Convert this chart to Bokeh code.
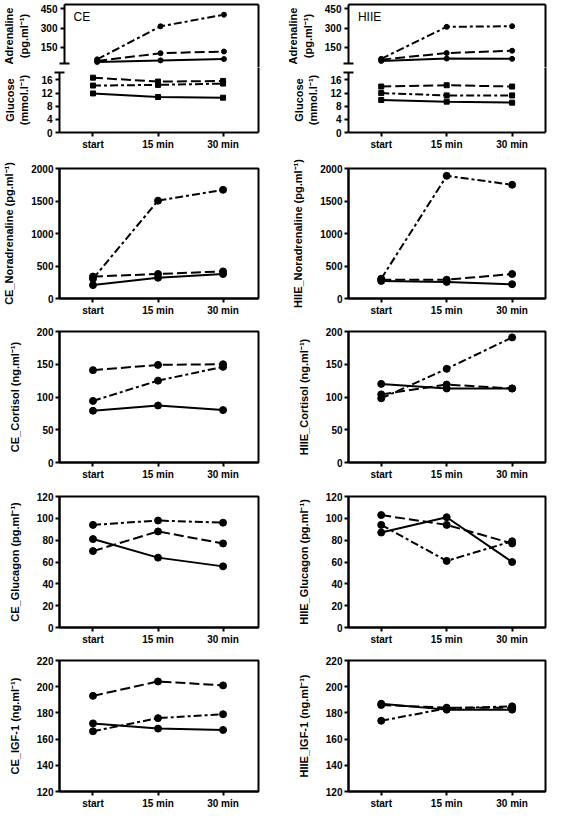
from bokeh.plotting import figure
from bokeh.layouts import column, row
from bokeh.models import Range1d, FixedTicker, LinearAxis, Label
from bokeh.embed import file_html
from bokeh.resources import INLINE

# ---------------- data ----------------
categories = ["start", "15 min", "30 min"]

# CE (left column)
ce_adr_solid = [38, 50, 60]
ce_adr_dashed = [45, 106, 119]
ce_adr_dashdot = [58, 314, 404]
ce_glu_solid = [11.9, 10.8, 10.6]
ce_glu_dashed = [16.7, 15.5, 15.7]
ce_glu_dashdot = [14.3, 14.5, 14.9]
ce_nor_solid = [206, 319, 377]
ce_nor_dashed = [338, 377, 417]
ce_nor_dashdot = [304, 1505, 1672]
ce_cor_solid = [79, 87, 80]
ce_cor_dashed = [141, 149, 150]
ce_cor_dashdot = [94, 125, 146]
ce_gcg_solid = [81, 64, 56]
ce_gcg_dashed = [70, 88, 77]
ce_gcg_dashdot = [94, 98, 96]
ce_igf_solid = [172, 168, 167]
ce_igf_dashed = [193, 204, 201]
ce_igf_dashdot = [166, 176, 179]

# HIIE (right column)
hi_adr_solid = [46, 64, 62]
hi_adr_dashed = [56, 107, 125]
hi_adr_dashdot = [62, 310, 315]
hi_glu_solid = [9.9, 9.4, 9.1]
hi_glu_dashed = [14.0, 14.4, 14.0]
hi_glu_dashdot = [12.0, 11.3, 11.3]
hi_nor_solid = [270, 255, 220]
hi_nor_dashed = [289, 289, 377]
hi_nor_dashdot = [304, 1887, 1750]
hi_cor_solid = [120, 113, 113]
hi_cor_dashed = [104, 119, 113]
hi_cor_dashdot = [98, 143, 191]
hi_gcg_solid = [87, 101, 60]
hi_gcg_dashed = [103, 94, 77]
hi_gcg_dashdot = [94, 61, 79]
hi_igf_solid = [187, 182.5, 182.5]
hi_igf_dashed = [186, 184, 184]
hi_igf_dashdot = [174, 183.5, 185]

# tick labels
adr_ticks = [150, 300, 450]
glu_ticks = [0, 4, 8, 12, 16]
nor_ticks = [0, 500, 1000, 1500, 2000]
cor_ticks = [0, 50, 100, 150, 200]
gcg_ticks = [0, 20, 40, 60, 80, 100, 120]
igf_ticks = [120, 140, 160, 180, 200, 220]

# ---------------- styling ----------------
FONT = "Liberation Sans"
DASH = {"solid": "solid", "dashed": "10 4", "dashdot": "8 3 3 3"}
x_idx = list(range(len(categories)))

LEFT = dict(w=282, bl=59, br=24, xr=(-0.515, 2.545))
RIGHT = dict(w=269, bl=66, br=6, xr=(-0.50, 2.51))


def style_axis(ax, ticks, minor=None):
    ax.ticker = FixedTicker(ticks=ticks, minor_ticks=minor or [])
    ax.axis_line_color = "black"
    ax.axis_line_width = 2
    ax.major_tick_line_color = "black"
    ax.major_tick_line_width = 2
    ax.major_tick_out = 4
    ax.major_tick_in = 0
    if minor:
        ax.minor_tick_line_color = "black"
        ax.minor_tick_line_width = 2
        ax.minor_tick_in = 5
        ax.minor_tick_out = 5
    else:
        ax.minor_tick_line_color = None
    ax.major_label_text_font = FONT
    ax.major_label_text_font_size = "10px"
    ax.major_label_text_font_style = "bold"
    ax.major_label_text_color = "black"
    ax.major_label_standoff = 2
    ax.axis_label_text_font = FONT
    ax.axis_label_text_font_size = "11px"
    ax.axis_label_text_font_style = "bold"
    ax.axis_label_text_color = "black"
    ax.axis_label_standoff = 13


def blank_axis(p, side):
    ax = LinearAxis(ticker=FixedTicker(ticks=[]))
    ax.axis_line_color = "black"
    ax.axis_line_width = 2
    ax.major_tick_line_color = None
    ax.minor_tick_line_color = None
    ax.major_label_standoff = 0
    ax.major_tick_out = 0
    ax.major_tick_in = 0
    p.add_layout(ax, side)


def draw(p, solid, dashed, dashdot, marker="circle", size=7, lw=2):
    for vals, key in ((solid, "solid"), (dashed, "dashed"), (dashdot, "dashdot")):
        p.line(x_idx, vals, line_color="black", line_width=lw, line_dash=DASH[key])
        p.scatter(x_idx, vals, marker=marker, size=size, color="black")


def style_x(ax):
    style_axis(ax, x_idx)
    ax.major_label_overrides = {i: c for i, c in enumerate(categories)}


def std_panel(col, h, bt, bb, yr, yticks, ylabel, series):
    p = figure(width=col["w"], height=h, x_range=Range1d(*col["xr"]), y_range=Range1d(*yr),
               output_backend="svg", toolbar_location=None,
               min_border_left=col["bl"], min_border_right=col["br"],
               min_border_top=bt, min_border_bottom=bb)
    p.xgrid.visible = False
    p.ygrid.visible = False
    p.outline_line_color = "black"
    p.outline_line_width = 2
    style_x(p.xaxis[0])
    style_axis(p.yaxis[0], yticks)
    p.yaxis[0].axis_label = ylabel
    draw(p, *series)
    return p


def top_upper(col, series, tag, tag_x):
    p = figure(width=col["w"], height=67, x_range=Range1d(*col["xr"]), y_range=Range1d(-5, 483),
               output_backend="svg", toolbar_location=None, x_axis_location=None,
               min_border_left=col["bl"], min_border_right=col["br"],
               min_border_top=4, min_border_bottom=0)
    p.xgrid.visible = False
    p.ygrid.visible = False
    p.outline_line_color = None
    ax = p.yaxis[0]
    style_axis(ax, adr_ticks, minor=[25])
    ax.bounds = (25, 483)
    ax.axis_label = "Adrenaline\n(pg.ml\u207b\u00b9)"
    ax.axis_label_standoff = 8
    blank_axis(p, "above")
    blank_axis(p, "right")
    draw(p, *series, marker="circle", size=5, lw=2)
    p.add_layout(Label(x=tag_x, y=384, text=tag, text_font=FONT, text_font_size="12px",
                       text_baseline="middle", text_align="left", text_color="black"))
    return p


def top_lower(col, series):
    p = figure(width=col["w"], height=85, x_range=Range1d(*col["xr"]), y_range=Range1d(0, 19.8),
               output_backend="svg", toolbar_location=None,
               min_border_left=col["bl"], min_border_right=col["br"],
               min_border_top=0, min_border_bottom=18)
    p.xgrid.visible = False
    p.ygrid.visible = False
    p.outline_line_color = None
    style_x(p.xaxis[0])
    ax = p.yaxis[0]
    style_axis(ax, glu_ticks, minor=[18.3])
    ax.bounds = (0, 18.3)
    ax.axis_label = "Glucose\n(mmol.l\u207b\u00b9)"
    ax.axis_label_standoff = 8
    blank_axis(p, "right")
    draw(p, *series, marker="square", size=5, lw=2)
    return p


a1 = top_upper(LEFT, (ce_adr_solid, ce_adr_dashed, ce_adr_dashdot), "CE", -0.373)
a2 = top_upper(RIGHT, (hi_adr_solid, hi_adr_dashed, hi_adr_dashdot), "HIIE", -0.356)
b1 = top_lower(LEFT, (ce_glu_solid, ce_glu_dashed, ce_glu_dashdot))
b2 = top_lower(RIGHT, (hi_glu_solid, hi_glu_dashed, hi_glu_dashdot))

UNIT_PG = " (pg.ml\u207b\u00b9)"
UNIT_NG = " (ng.ml\u207b\u00b9)"

n1 = std_panel(LEFT, 166, 16, 17, (0, 2000), nor_ticks, "CE_Noradrenaline" + UNIT_PG,
               (ce_nor_solid, ce_nor_dashed, ce_nor_dashdot))
n2 = std_panel(RIGHT, 166, 16, 17, (0, 2000), nor_ticks, "HIIE_Noradrenaline" + UNIT_PG,
               (hi_nor_solid, hi_nor_dashed, hi_nor_dashdot))
c1 = std_panel(LEFT, 164, 13, 16, (0, 200), cor_ticks, "CE_Cortisol" + UNIT_NG,
               (ce_cor_solid, ce_cor_dashed, ce_cor_dashdot))
c2 = std_panel(RIGHT, 164, 13, 16, (0, 200), cor_ticks, "HIIE_Cortisol" + UNIT_NG,
               (hi_cor_solid, hi_cor_dashed, hi_cor_dashdot))
g1 = std_panel(LEFT, 165, 14, 15, (0, 120), gcg_ticks, "CE_Glucagon" + UNIT_PG,
               (ce_gcg_solid, ce_gcg_dashed, ce_gcg_dashdot))
g2 = std_panel(RIGHT, 165, 14, 15, (0, 120), gcg_ticks, "HIIE_Glucagon" + UNIT_PG,
               (hi_gcg_solid, hi_gcg_dashed, hi_gcg_dashdot))
i1 = std_panel(LEFT, 164, 13, 15, (120, 220), igf_ticks, "CE_IGF-1" + UNIT_NG,
               (ce_igf_solid, ce_igf_dashed, ce_igf_dashdot))
i2 = std_panel(RIGHT, 164, 13, 15, (120, 220), igf_ticks, "HIIE_IGF-1" + UNIT_NG,
               (hi_igf_solid, hi_igf_dashed, hi_igf_dashdot))

layout = column(row(a1, a2), row(b1, b2), row(n1, n2), row(c1, c2), row(g1, g2), row(i1, i2))

open("out.html", "w").write(file_html(layout, INLINE))
